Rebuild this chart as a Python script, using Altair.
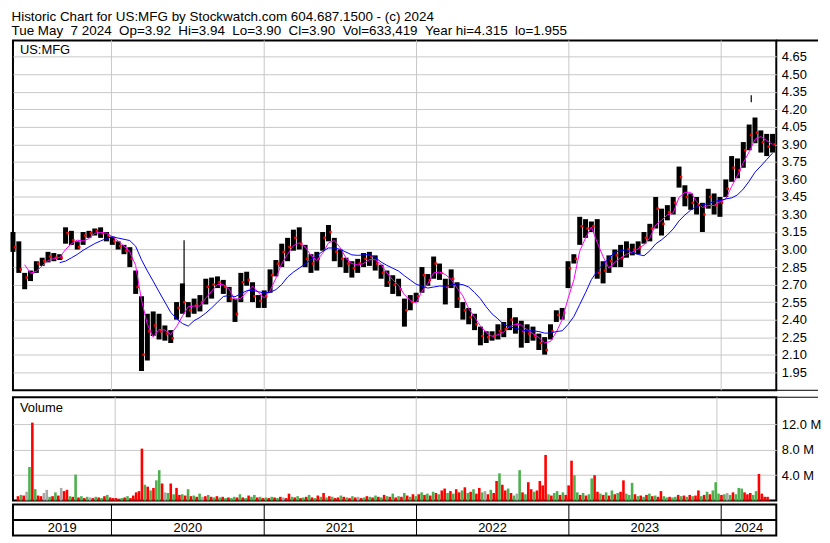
import altair as alt
import pandas as pd

FONT = "Liberation Sans"
TITLE1 = "Historic Chart for US:MFG by Stockwatch.com 604.687.1500 - (c) 2024"
TITLE2 = ("Tue May\u00a0\u00a07 2024\u00a0\u00a0Op=3.92\u00a0\u00a0Hi=3.94\u00a0\u00a0Lo=3.90\u00a0\u00a0"
          "Cl=3.90\u00a0\u00a0Vol=633,419\u00a0\u00a0Year hi=4.315\u00a0\u00a0lo=1.955")

# ---- price data (two-week bars) ----
price_dates = pd.date_range("2019-05-10", periods=131, freq="14D").strftime("%Y-%m-%d").tolist()
price_hi = [3.15, 3.07, 2.80, 2.82, 2.90, 2.93, 2.98, 2.97, 2.96, 3.19,
            3.16, 3.07, 3.15, 3.16, 3.18, 3.19, 3.15, 3.11, 3.07, 3.04,
            3.02, 2.82, 2.60, 2.45, 2.47, 2.45, 2.35, 2.31, 2.55, 2.71,
            2.55, 2.58, 2.61, 2.75, 2.76, 2.77, 2.74, 2.68, 2.58, 2.80,
            2.81, 2.72, 2.61, 2.65, 2.83, 2.91, 3.05, 3.10, 3.17, 3.19,
            3.04, 2.96, 2.98, 3.15, 3.21, 3.10, 3.00, 2.93, 2.90, 2.92,
            2.97, 2.98, 2.95, 2.87, 2.82, 2.78, 2.75, 2.58, 2.61, 2.63,
            2.85, 2.79, 2.94, 2.88, 2.75, 2.83, 2.72, 2.55, 2.50, 2.45,
            2.34, 2.30, 2.30, 2.36, 2.38, 2.50, 2.42, 2.39, 2.36, 2.34,
            2.28, 2.25, 2.36, 2.48, 2.50, 2.90, 2.96, 3.28, 3.26, 3.24,
            3.26, 2.90, 2.95, 3.00, 3.04, 3.07, 3.05, 3.07, 3.15, 3.22,
            3.45, 3.35, 3.38, 3.45, 3.71, 3.55, 3.48, 3.45, 3.40, 3.52,
            3.48, 3.45, 3.60, 3.80, 3.78, 3.92, 4.07, 4.13, 4.02, 3.99,
            3.99]
price_lo = [2.98, 2.80, 2.66, 2.73, 2.80, 2.86, 2.89, 2.90, 2.91, 3.05,
            3.04, 3.00, 3.04, 3.10, 3.12, 3.10, 3.07, 3.04, 3.00, 2.96,
            2.85, 2.62, 1.96, 2.05, 2.26, 2.23, 2.22, 2.20, 2.40, 2.45,
            2.42, 2.45, 2.47, 2.53, 2.58, 2.67, 2.62, 2.55, 2.38, 2.55,
            2.69, 2.55, 2.50, 2.50, 2.63, 2.77, 2.85, 2.90, 2.99, 3.00,
            2.85, 2.80, 2.82, 2.99, 3.07, 2.90, 2.85, 2.80, 2.76, 2.80,
            2.85, 2.86, 2.82, 2.75, 2.68, 2.62, 2.60, 2.34, 2.48, 2.55,
            2.63, 2.69, 2.75, 2.74, 2.53, 2.67, 2.50, 2.40, 2.36, 2.31,
            2.18, 2.20, 2.22, 2.23, 2.25, 2.31, 2.28, 2.16, 2.20, 2.22,
            2.14, 2.10, 2.23, 2.38, 2.40, 2.67, 2.88, 3.04, 3.10, 3.15,
            2.75, 2.71, 2.80, 2.85, 2.85, 2.93, 2.95, 2.96, 3.05, 3.07,
            3.18, 3.12, 3.25, 3.30, 3.53, 3.37, 3.34, 3.30, 3.15, 3.35,
            3.30, 3.28, 3.45, 3.58, 3.61, 3.70, 3.85, 3.91, 3.83, 3.80,
            3.83]
price_close = [3.02, 2.83, 2.76, 2.80, 2.88, 2.90, 2.94, 2.93, 2.93, 3.14,
               3.08, 3.02, 3.12, 3.14, 3.16, 3.14, 3.12, 3.07, 3.03, 2.99,
               2.92, 2.68, 2.10, 2.30, 2.35, 2.30, 2.28, 2.24, 2.50, 2.55,
               2.48, 2.52, 2.55, 2.68, 2.70, 2.72, 2.68, 2.58, 2.45, 2.72,
               2.74, 2.60, 2.56, 2.60, 2.78, 2.88, 2.98, 3.02, 3.10, 3.05,
               2.92, 2.88, 2.92, 3.10, 3.15, 2.98, 2.92, 2.88, 2.84, 2.88,
               2.92, 2.94, 2.88, 2.80, 2.72, 2.70, 2.66, 2.48, 2.55, 2.60,
               2.78, 2.74, 2.88, 2.80, 2.68, 2.75, 2.58, 2.48, 2.42, 2.36,
               2.26, 2.25, 2.26, 2.30, 2.32, 2.40, 2.36, 2.30, 2.28, 2.26,
               2.20, 2.14, 2.30, 2.44, 2.46, 2.84, 2.92, 3.20, 3.18, 3.20,
               2.80, 2.82, 2.90, 2.95, 2.93, 3.00, 3.00, 3.02, 3.10, 3.18,
               3.35, 3.22, 3.32, 3.40, 3.62, 3.45, 3.40, 3.38, 3.30, 3.45,
               3.38, 3.40, 3.52, 3.70, 3.68, 3.85, 3.98, 4.00, 3.92, 3.88,
               3.90]
spike_dates = ["2020-06-23", "2024-03-13"]
spike_hi = [3.08, 4.32]
spike_lo = [2.60, 4.26]

# ---- weekly volume (millions) and bar colour: r=down, g=up, a=unchanged ----
vol_2019 = [0.7, 0.9, 0.8, 1.4, 5.3, 12.3, 1.8, 0.8, 0.7, 1.2, 1.7, 0.6, 0.7, 1.3, 0.8, 2.0, 1.5,
            1.7, 0.7, 0.6, 4.1, 0.5, 0.7, 0.4, 0.6, 0.5, 0.4, 0.6, 0.5, 0.4, 0.7, 0.9, 0.5, 0.4]
col_2019 = "rgragrgrraagrgrarrgrgrgrgargrgrgrr"
vol_2020 = [0.4, 0.3, 0.4, 0.5, 0.7, 0.4, 0.8, 1.3, 1.5, 8.2, 2.5, 2.2, 1.6, 2.0, 3.2, 4.8, 2.7,
            1.3, 1.2, 2.7, 1.0, 2.0, 0.9, 1.0, 0.8, 1.8, 0.7, 0.8, 0.6, 1.1, 0.6, 0.7, 0.9, 0.6,
            0.5, 0.7, 0.5, 0.6, 0.4, 0.5, 0.4, 0.6, 0.5, 1.0, 0.5, 0.4, 0.8, 0.6, 0.9, 0.5, 0.6, 0.4]
col_2020 = "rrgrgrrrrrgrgrggragrgrrgrgrgrgargrgrgrgrggrgrgrggrgr"
vol_2021 = [0.5, 0.4, 0.6, 0.5, 0.4, 0.6, 0.5, 0.4, 1.1, 0.6, 0.5, 0.7, 0.4, 0.5, 0.6, 0.9, 0.5,
            0.4, 0.8, 0.6, 1.2, 0.5, 0.7, 0.6, 0.4, 0.5, 0.8, 0.6, 0.5, 0.4, 0.7, 0.5, 0.6, 0.4,
            0.5, 0.7, 0.6, 0.5, 0.8, 0.6, 0.5, 0.9, 0.7, 0.6, 1.1, 0.5, 0.7, 0.6, 1.2, 0.8, 0.6, 1.0, 0.7]
col_2021 = "grgrgrarrgrgrgrgrgrgrgrgrrgrgrgrargrgrgrgrgrgrgrgrgrg"
vol_2022 = [1.0, 1.3, 0.9, 1.1, 0.8, 1.4, 1.2, 1.0, 1.6, 1.9, 1.2, 1.5, 1.1, 1.8, 1.3, 1.6, 2.1,
            1.2, 1.4, 1.8, 1.1, 2.0, 1.3, 1.5, 1.0, 1.7, 1.2, 3.1, 4.3, 2.5, 1.6, 1.9, 1.2, 0.8,
            1.1, 4.8, 1.3, 1.0, 2.9, 1.8, 1.4, 1.6, 3.1, 2.4, 7.2, 1.0, 0.8, 1.2, 1.5, 0.9, 1.3, 0.9]
col_2022 = "rgrgrgrgrrgrgrrgrgrgrrgargrrgrrgrgagrgrrgrrrrgrggrgr"
vol_2023 = [2.4, 6.3, 4.0, 1.3, 0.9, 1.2, 0.8, 1.0, 3.5, 4.0, 1.4, 1.1, 0.9, 1.3, 0.8, 1.6, 1.0,
            1.2, 1.4, 3.2, 1.1, 0.9, 2.8, 1.0, 0.7, 0.8, 0.6, 0.9, 1.1, 0.7, 0.8, 0.6, 1.5, 0.7,
            0.5, 0.6, 0.5, 0.6, 0.9, 0.7, 0.8, 0.6, 0.9, 0.7, 0.8, 1.6, 0.7, 0.9, 1.4, 1.0, 1.6, 2.9]
col_2023 = "rrggrgrggrrgrgrgrgrrgggrgrgrgrgrrggrggrgrgrgrrgrgrgg"
vol_2024 = [1.1, 0.9, 1.0, 1.2, 0.9, 1.3, 1.0, 2.0, 1.9, 1.3, 1.0, 1.2, 0.9, 1.5, 4.2, 1.1, 0.6, 0.6]
col_2024 = "grgagrgggrrrggrrrr"

year_starts = ["2020-01-01", "2021-01-01", "2022-01-01", "2023-01-01", "2024-01-01"]
year_labels = ["2019", "2020", "2021", "2022", "2023", "2024"]
price_ticks = [1.95, 2.10, 2.25, 2.40, 2.55, 2.70, 2.85, 3.00, 3.15, 3.30,
               3.45, 3.60, 3.75, 3.90, 4.05, 4.20, 4.35, 4.50, 4.65]
vol_ticks = [4, 8, 12]

# ---- build tables ----
START, END = "2019-05-10", "2024-05-12"
def ms(s):
    return int(pd.Timestamp(s).value // 10**6)

pdf = pd.DataFrame({"date": price_dates, "hi": price_hi, "lo": price_lo, "close": price_close})
sdf = pd.DataFrame({"date": spike_dates, "hi": spike_hi, "lo": spike_lo})
vol_dates = pd.date_range(START, periods=261, freq="7D").strftime("%Y-%m-%d").tolist()
vdf = pd.DataFrame({"date": vol_dates,
                    "vol": vol_2019 + vol_2020 + vol_2021 + vol_2022 + vol_2023 + vol_2024,
                    "c": list(col_2019 + col_2020 + col_2021 + col_2022 + col_2023 + col_2024)})
ydf = pd.DataFrame({"d": year_starts})
bounds = [pd.Timestamp(START)] + [pd.Timestamp(s) for s in year_starts] + [pd.Timestamp(END)]
mids = [(bounds[k] + (bounds[k + 1] - bounds[k]) / 2).strftime("%Y-%m-%d") for k in range(len(year_labels))]
ldf = pd.DataFrame({"d": mids, "t": year_labels})

W, HP, HV, HS = 768, 352, 104, 31
GRID = "#C8C8C8"
xs = alt.Scale(domain=[ms(START), ms(END)])
X = alt.X("date:T", scale=xs, axis=None)
one = pd.DataFrame({"a": [0]})

# ---- price panel ----
yscale = alt.Scale(domain=[1.795, 4.79], nice=False, zero=False)
yaxis = alt.Axis(orient="right", values=price_ticks, tickCount=40, format=".2f", grid=True,
                 gridColor=GRID, ticks=False, domain=False, labelPadding=5, labelFontSize=13,
                 labelFont=FONT, labelColor="black", title=None, labelOverlap=False, labelBound=False)
vgrid = alt.Chart(ydf).mark_rule(color=GRID, strokeWidth=1).encode(x=alt.X("d:T", scale=xs, axis=None))
bars = alt.Chart(pdf).mark_rule(color="black", strokeWidth=5).encode(
    x=X, y=alt.Y("lo:Q", scale=yscale, axis=yaxis), y2="hi:Q")
spikes = alt.Chart(sdf).mark_rule(color="black", strokeWidth=1.2).encode(x=X, y="lo:Q", y2="hi:Q")
closes = alt.Chart(pdf).mark_square(color="red", size=6, opacity=1).encode(
    x=X, y="close:Q", xOffset=alt.value(2))
ma_fast = alt.Chart(pdf).transform_window(
    ma="mean(close)", frame=[-2, 0], sort=[alt.SortField("date")]
).transform_window(rn="row_number()", sort=[alt.SortField("date")]
).transform_filter("datum.rn >= 3").mark_line(color="#FF00FF", strokeWidth=1).encode(x=X, y="ma:Q")
ma_slow = alt.Chart(pdf).transform_window(
    ma="mean(close)", frame=[-8, 0], sort=[alt.SortField("date")]
).transform_window(rn="row_number()", sort=[alt.SortField("date")]
).transform_filter("datum.rn >= 9").mark_line(color="#0000FF", strokeWidth=1).encode(x=X, y="ma:Q")
sym = alt.Chart(pd.DataFrame({"t": ["US:MFG"]})).mark_text(
    align="left", baseline="middle", fontSize=13, font=FONT, color="black"
).encode(x=alt.value(7), y=alt.value(10), text="t:N")
top_ext = alt.Chart(one).mark_rule(color="black", strokeWidth=2).encode(
    x=alt.value(W), x2=alt.value(W + 42), y=alt.value(0))
bot_ext = alt.Chart(one).mark_rule(color="black", strokeWidth=1).encode(
    x=alt.value(W), x2=alt.value(W + 42), y=alt.value(HP))
price = alt.layer(vgrid, bars, spikes, closes, ma_fast, ma_slow, sym, top_ext, bot_ext).properties(
    width=W, height=HP)

# ---- volume panel ----
vaxis = alt.Axis(orient="right", values=vol_ticks, tickCount=10,
                 labelExpr="format(datum.value, '.1f') + ' M'",
                 grid=True, gridColor=GRID, ticks=False, domain=False, labelPadding=5,
                 labelFontSize=13, labelFont=FONT, labelColor="black", title=None,
                 labelOverlap=False, labelBound=False)
vbars = alt.Chart(vdf).mark_bar(width=2.6).encode(
    x=X,
    y=alt.Y("vol:Q", scale=alt.Scale(domain=[0, 16.3], nice=False), axis=vaxis),
    color=alt.Color("c:N", scale=alt.Scale(domain=["r", "g", "a"],
                                           range=["#FF0000", "#4DB04D", "#A8A8A8"]), legend=None))
vlab = alt.Chart(pd.DataFrame({"t": ["Volume"]})).mark_text(
    align="left", baseline="middle", fontSize=13, font=FONT, color="black"
).encode(x=alt.value(7), y=alt.value(11), text="t:N")
vtop_ext = alt.Chart(one).mark_rule(color="black", strokeWidth=1).encode(
    x=alt.value(W), x2=alt.value(W + 42), y=alt.value(0))
volume = alt.layer(vgrid, vbars, vlab, vtop_ext).properties(width=W, height=HV)

# ---- year strip ----
seps = alt.Chart(ydf).mark_rule(color="black", strokeWidth=1).encode(x=alt.X("d:T", scale=xs, axis=None))
mid_line = alt.Chart(one).mark_rule(color="black", strokeWidth=2).encode(
    x=alt.value(0), x2=alt.value(W), y=alt.value(HS / 2))
ylab = alt.Chart(ldf).mark_text(baseline="middle", fontSize=13, font=FONT, color="black").encode(
    x=alt.X("d:T", scale=xs, axis=None), y=alt.value(HS * 0.75 + 0.5), text="t:N")
strip = alt.layer(seps, mid_line, ylab).properties(width=W, height=HS)

chart = alt.vconcat(
    price,
    alt.vconcat(volume, strip, spacing=0),
    spacing=3,
).properties(
    title=alt.TitleParams(text=[TITLE1, TITLE2], anchor="start", font=FONT, fontSize=13.5,
                          fontWeight="normal", color="black", lineHeight=14, offset=1, dx=2),
    padding={"left": 1, "top": 0, "right": 0, "bottom": 1},
).configure_view(stroke="black", strokeWidth=2)

chart.save("out.html", embed_options={"renderer": "svg", "actions": False})
